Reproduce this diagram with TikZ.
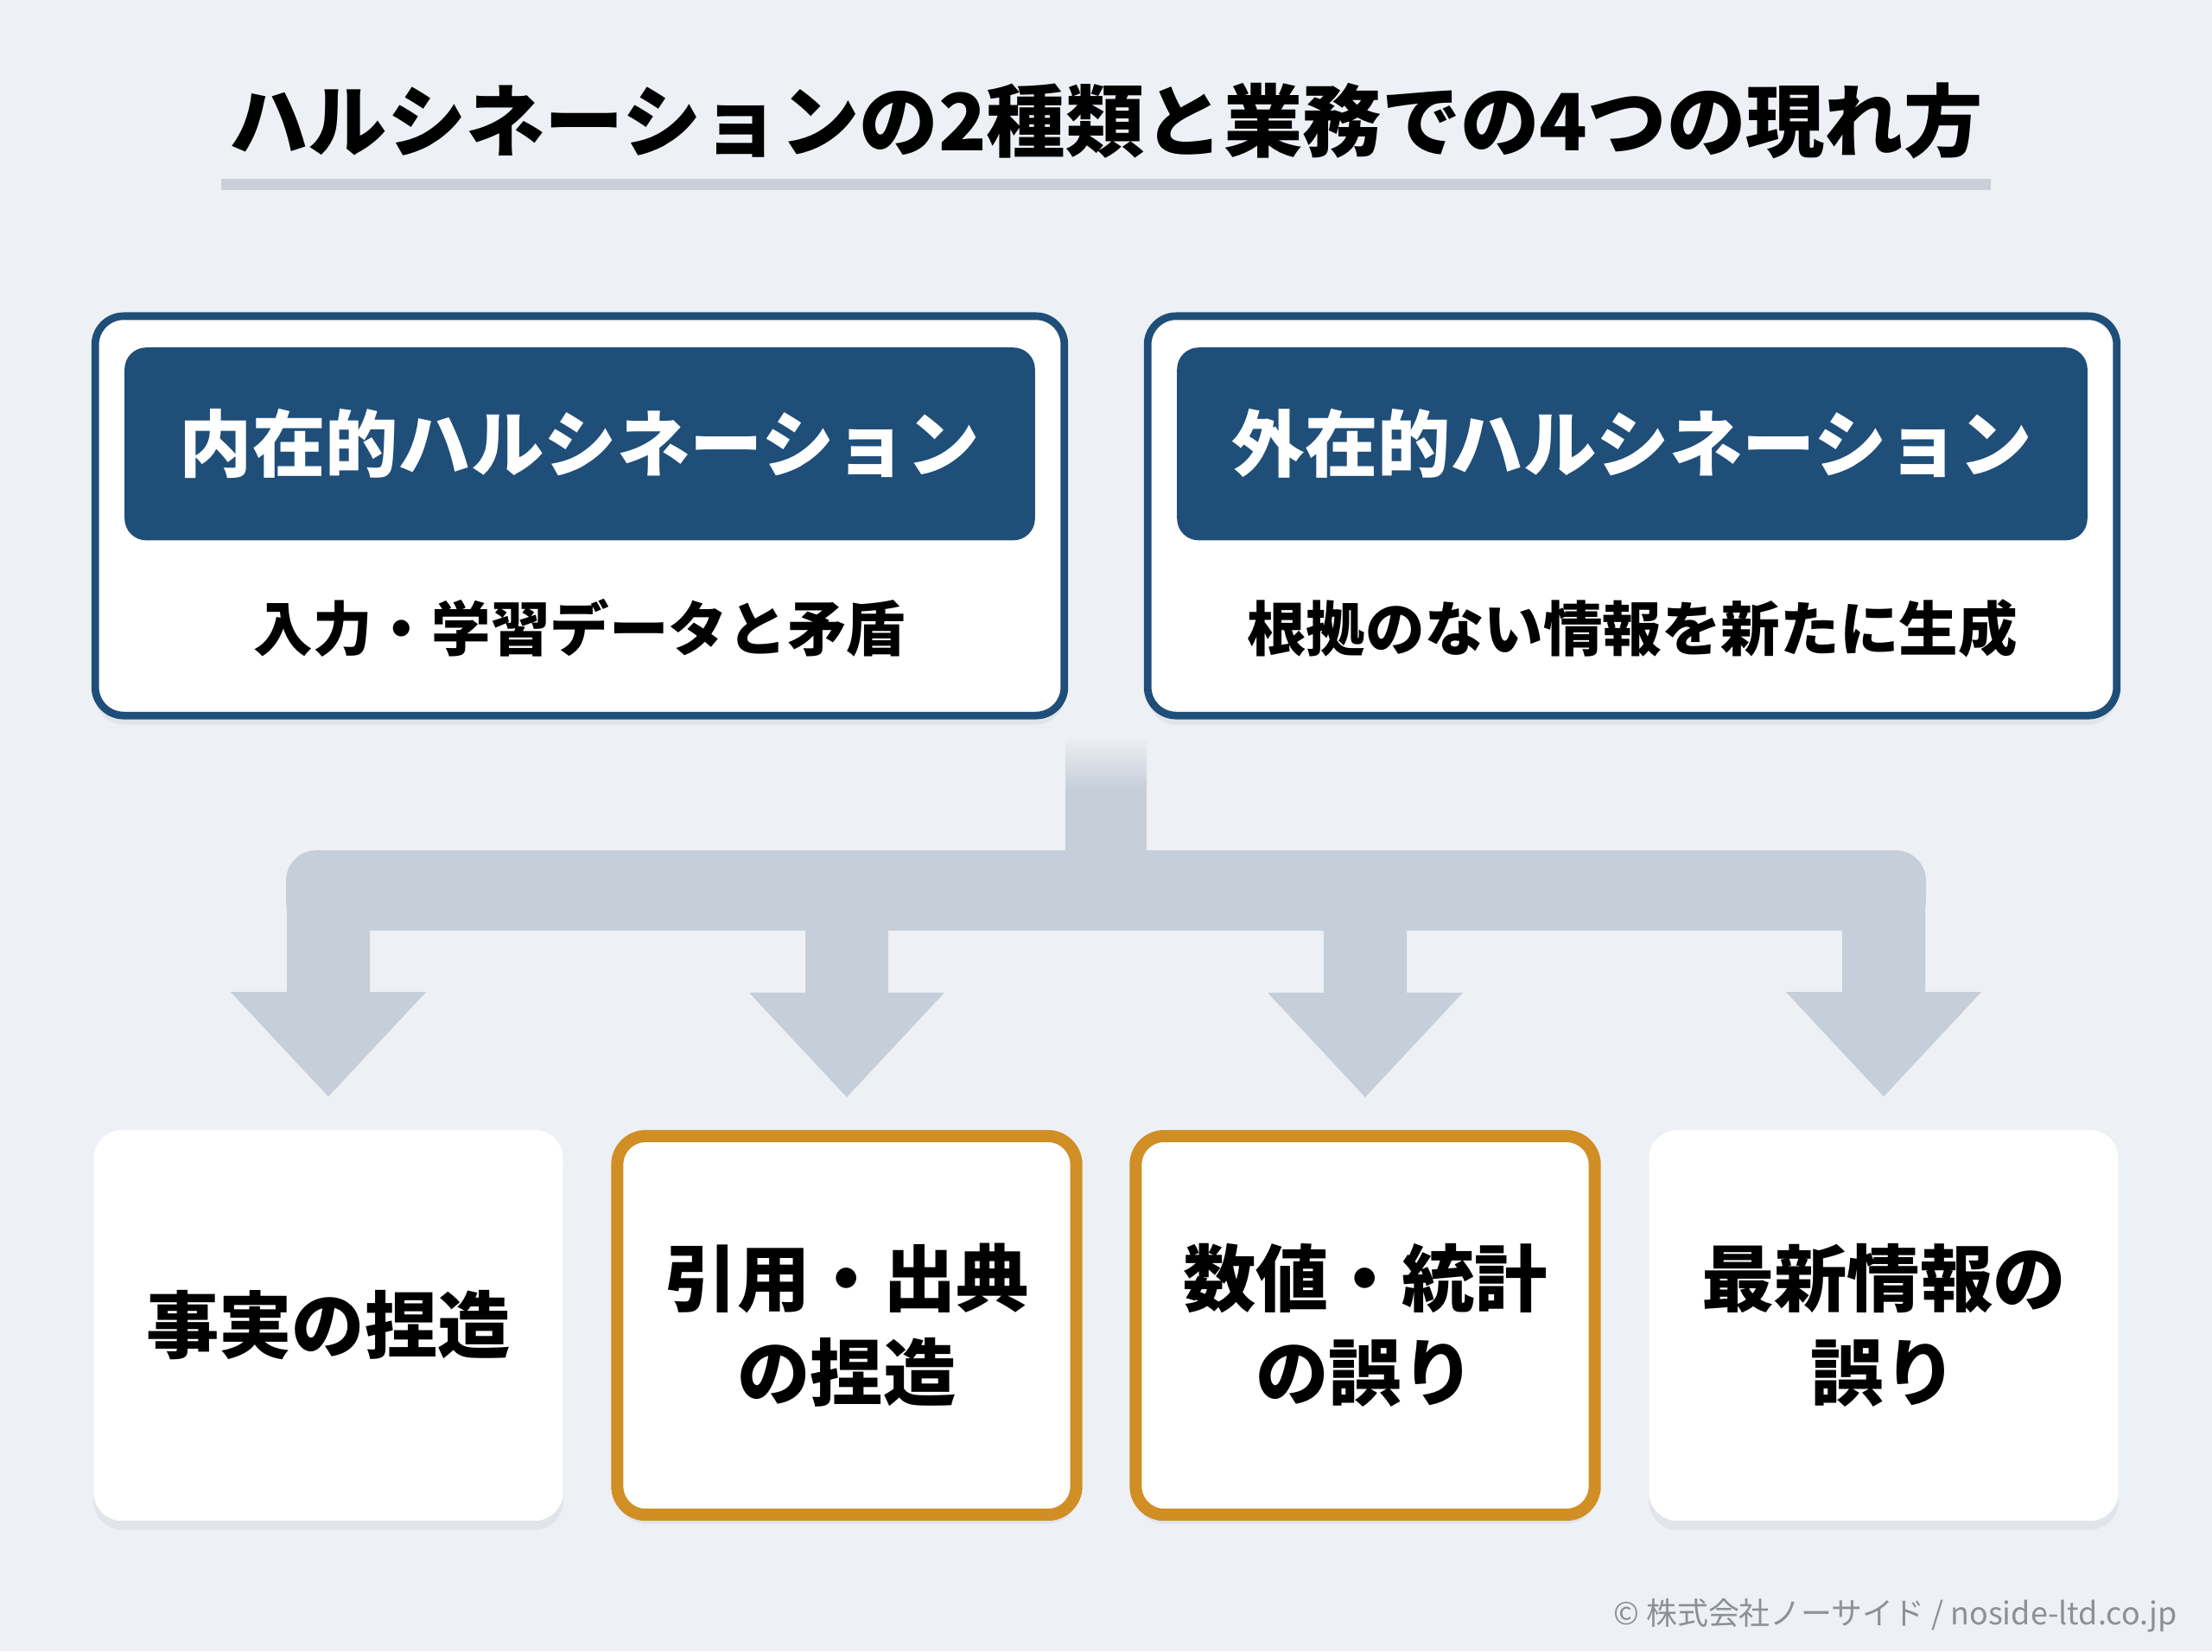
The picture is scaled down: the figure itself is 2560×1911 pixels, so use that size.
\documentclass[tikz,border=0pt]{standalone}
\usepackage{fontspec}
\setmainfont{Noto Sans CJK JP}
\usetikzlibrary{positioning,calc,shadows}
\definecolor{bgcol}{HTML}{EDF0F4}
\definecolor{navy}{HTML}{1F4E79}
\definecolor{amber}{HTML}{D08E25}
\definecolor{fork}{HTML}{C6CED9}
\definecolor{rulecol}{HTML}{C9D0DA}
\definecolor{footgray}{HTML}{8C9097}
\tikzset{
  softshadow/.style={drop shadow={shadow xshift=0pt, shadow yshift=-3pt, opacity=0.07, fill=black!70}},
  topbox/.style={draw=navy, line width=2.5pt, fill=white, rounded corners=0.33cm,
    minimum width=11.21cm, minimum height=4.62cm, softshadow},
  headbox/.style={fill=navy, rounded corners=0.25cm, minimum width=10.53cm,
    minimum height=2.23cm, text=white, font=\bfseries\fontsize{24}{28}\selectfont},
  subtext/.style={font=\bfseries\fontsize{19.5}{24}\selectfont},
  card/.style={fill=white, rounded corners=0.33cm, minimum width=5.43cm,
    minimum height=4.52cm, align=center, font=\bfseries\fontsize{24}{31}\selectfont, softshadow},
  hot/.style={draw=amber, line width=4pt, minimum width=5.31cm, minimum height=4.38cm}
}
\begin{document}
\begin{tikzpicture}[x=0.01cm, y=0.01cm]
  \fill[bgcol] (0,0) rectangle (2560,-1911);
  \useasboundingbox (0,0) rectangle (2560,-1911);

  \node (title) at (1280,-140) {\bfseries\fontsize{26}{30}\selectfont ハルシネーションの2種類と業務での4つの現れ方};
  \fill[rulecol] (256,-207) rectangle (2304,-220);

  \node (intr) [topbox] at (671,-597) {};
  \node (intrhead) [headbox, below=0.4cm of intr.north] {内在的ハルシネーション};
  \node (intrsub) [subtext] at (671,-727) {入力・学習データと矛盾};

  \node (extr) [topbox] at (1889,-597) {};
  \node (extrhead) [headbox, below=0.4cm of extr.north] {外在的ハルシネーション};
  \node (extrsub) [subtext] at (1889,-727) {根拠のない情報を新たに生成};

  \node (fact) [card] at (380,-1534) {事実の捏造};
  \node (cite) [card, hot] at (980,-1534) {引用・出典\\の捏造};
  \node (num) [card, hot] at (1580,-1534) {数値・統計\\の誤り};
  \node (news) [card] at (2180,-1534) {最新情報の\\誤り};

  \coordinate (split) at ($(intr.south east)!0.5!(extr.south west)$);
  \shade[top color=bgcol, bottom color=fork] ($(split)+(-47,-20)$) rectangle ($(split)+(47,-80)$);
  \fill[fork] ($(split)+(-47,-79)$) rectangle ($(split)+(47,-200)$);
  \fill[fork, rounded corners=0.35cm] ($(fact.north)+(-49,323)$) rectangle ($(news.north)+(49,230)$);
  \foreach \b in {fact,cite,num,news}
    \fill[fork] ($(\b.north)+(-48,277)$) -- ($(\b.north)+(-48,159)$) -- ($(\b.north)+(-113,159)$)
      -- ($(\b.north)+(0,38)$) -- ($(\b.north)+(113,159)$) -- ($(\b.north)+(48,159)$)
      -- ($(\b.north)+(48,277)$) -- cycle;

  \node (credit) [anchor=east, text=footgray, font=\fontsize{10.2}{12}\selectfont] at (2532,-1870)
    {© 株式会社ノーサイド / noside-ltd.co.jp};
\end{tikzpicture}
\end{document}
